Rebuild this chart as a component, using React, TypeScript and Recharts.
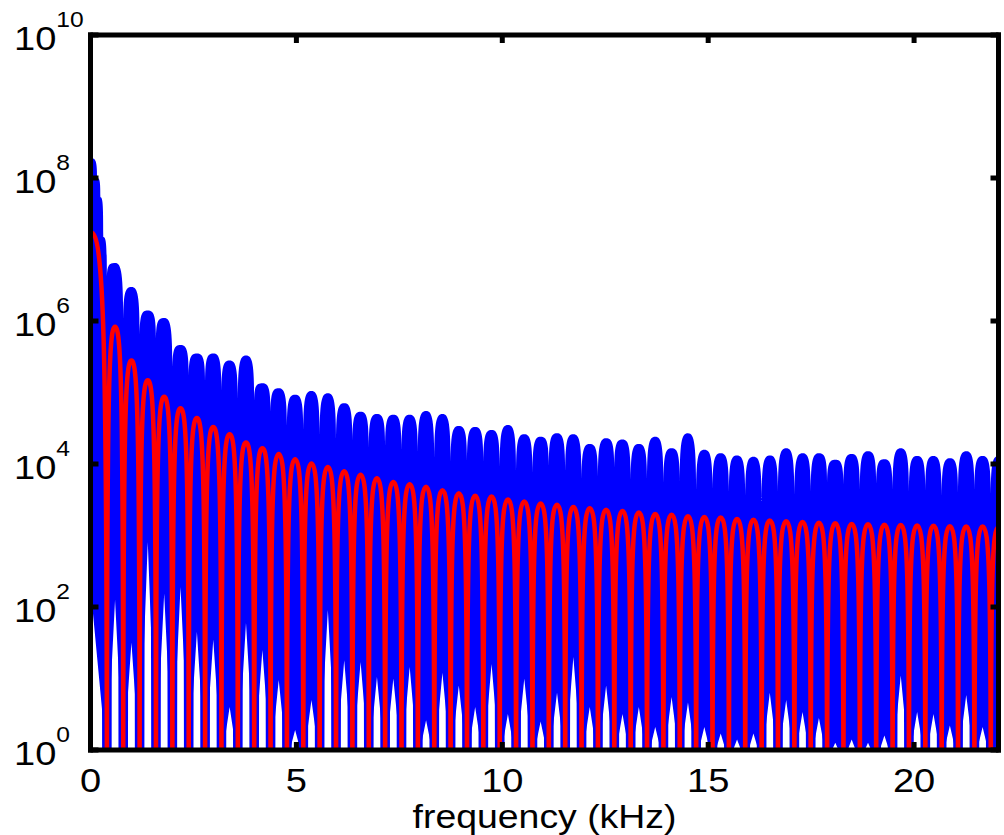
import React from 'react';
import { ComposedChart, Area, Line, XAxis, YAxis } from 'recharts';

// frequencies (kHz) of the nulls between lobes (lobe k ends at nullFreqs[k])
const nullFreqs = [
  0.398, 0.795, 1.193, 1.59, 1.988, 2.385, 2.783, 3.18, 3.578, 3.975,
  4.373, 4.77, 5.168, 5.565, 5.963, 6.36, 6.758, 7.155, 7.553, 7.95,
  8.348, 8.745, 9.143, 9.54, 9.938, 10.335, 10.733, 11.13, 11.528, 11.925,
  12.323, 12.72, 13.118, 13.515, 13.913, 14.31, 14.708, 15.105, 15.503, 15.9,
  16.298, 16.695, 17.093, 17.49, 17.888, 18.285, 18.683, 19.08, 19.478, 19.875,
  20.273, 20.67, 21.068, 21.465, 21.863,
];

// frequencies (kHz) of the lobe maxima
const peakFreqs = [
  0, 0.596, 0.994, 1.391, 1.789, 2.186, 2.584, 2.981, 3.379, 3.776,
  4.174, 4.571, 4.969, 5.366, 5.764, 6.161, 6.559, 6.956, 7.354, 7.751,
  8.149, 8.546, 8.944, 9.341, 9.739, 10.136, 10.534, 10.931, 11.329, 11.726,
  12.124, 12.521, 12.919, 13.316, 13.714, 14.111, 14.509, 14.906, 15.304, 15.701,
  16.099, 16.496, 16.894, 17.291, 17.689, 18.086, 18.484, 18.881, 19.279, 19.676,
  20.074, 20.471, 20.869, 21.266, 21.664, 22.05,
];

// red curve: lobe peak magnitudes
const redPeaks = [
  1.74e7, 8.3e5, 2.8e5, 1.48e5, 8.7e4, 6.0e4, 4.4e4, 3.3e4, 2.6e4, 2.0e4,
  1.66e4, 1.38e4, 1.17e4, 1.02e4, 9100, 7900, 7100, 6300, 5600, 5200,
  4800, 4300, 3900, 3600, 3500, 3200, 3000, 2800, 2700, 2500,
  2400, 2300, 2200, 2100, 2000, 1950, 1860, 1820, 1780, 1700,
  1660, 1620, 1580, 1550, 1510, 1480, 1450, 1440, 1410, 1400,
  1380, 1370, 1350, 1340, 1340, 1320,
];

// blue spectrum: upper envelope at each lobe
const bluePeaks = [
  1.9e8, 6.5e6, 3.0e6, 1.4e6, 1.1e6, 4.6e5, 3.5e5, 3.5e5, 2.8e5, 3.3e5,
  1.35e5, 1.15e5, 9.3e4, 1.05e5, 9.8e4, 7.1e4, 5.4e4, 5.0e4, 4.9e4, 4.9e4,
  5.5e4, 5.0e4, 3.4e4, 3.3e4, 3.0e4, 3.5e4, 2.6e4, 2.4e4, 2.7e4, 2.6e4,
  1.9e4, 2.3e4, 2.2e4, 1.9e4, 2.4e4, 1.66e4, 2.7e4, 1.58e4, 1.41e4, 1.32e4,
  1.26e4, 1.32e4, 1.66e4, 1.41e4, 1.41e4, 1.15e4, 1.38e4, 1.51e4, 1.17e4, 1.66e4,
  1.29e4, 1.29e4, 1.2e4, 1.51e4, 1.29e4, 1.29e4,
];

// blue spectrum: upper envelope in the notches (at each null)
const blueNotches = [
  3.7e6, 8.3e5, 5.4e5, 4.9e5, 1.86e5, 1.48e5, 1.2e5, 8.7e4, 6.3e4, 7.1e4,
  4.6e4, 2.7e4, 2.4e4, 1.95e4, 1.74e4, 1.74e4, 1.41e4, 1.48e4, 1.26e4, 1.15e4,
  9100, 8300, 9100, 8700, 7400, 6300, 6000, 7800, 6300, 4800,
  5400, 7400, 4800, 4800, 4400, 4800, 3200, 3500, 3200, 2800,
  2500, 3200, 2800, 3200, 4800, 4400, 3500, 4400, 3500, 3200,
  3500, 2800, 3200, 3500, 3000,
];

// blue spectrum: main-lobe staircase
const blueMainFreqs = [0.16, 0.24, 0.31];
const blueMainValues = [1.0e8, 5.4e7, 1.5e7];

// blue spectrum: lowest excursion inside each lobe
const blueLows = [
  190, 126, 32, 810, 155, 190, 45, 35, 4, 60,
  25, 9.5, 1.9, 5, 91, 18, 17, 10.5, 10, 14.5,
  2.6, 12, 8, 4, 16, 3.2, 10, 2.5, 6.3, 20,
  4, 8, 3.2, 4, 2.1, 5.5, 4.6, 2.1, 1.7, 1.4,
  1.7, 6.3, 5, 3.4, 2.8, 1.26, 1.4, 1.26, 1.6, 11,
  3.4, 3.2, 2.2, 5.9, 2.1, 0.3,
];

const NULL_LEVEL = 0.1;
const WHITE_BASE = 0.7;

const xTicks = [0, 5, 10, 15, 20];
const yTicks = [1, 1e2, 1e4, 1e6, 1e8, 1e10];

type Pt = { f: number; v: number };

const redData: Pt[] = [];
const blueHiData: Pt[] = [];
const blueLoData: Pt[] = [];
for (let k = 0; k < peakFreqs.length; k++) {
  redData.push({ f: peakFreqs[k], v: redPeaks[k] });
  blueHiData.push({ f: peakFreqs[k], v: bluePeaks[k] });
  blueLoData.push({ f: peakFreqs[k], v: blueLows[k] });
  if (k === 0) {
    blueMainFreqs.forEach((f, i) => blueHiData.push({ f, v: blueMainValues[i] }));
  }
  if (k < nullFreqs.length) {
    redData.push({ f: nullFreqs[k], v: NULL_LEVEL });
    blueHiData.push({ f: nullFreqs[k], v: blueNotches[k] });
    blueLoData.push({ f: nullFreqs[k], v: WHITE_BASE });
  }
}

// dome-shaped interpolation: vertical tangents at minima, horizontal at maxima
const CA = 0.85;
const CB = 0.8;
function domeCurve(context: any) {
  let line: number = NaN;
  let pt = 0;
  let x0 = 0;
  let y0 = 0;
  return {
    areaStart() { line = 0; },
    areaEnd() { line = NaN; },
    lineStart() { pt = 0; },
    lineEnd() {
      if (line || (line !== 0 && pt === 1)) context.closePath();
      line = 1 - line;
    },
    point(x: number, y: number) {
      x = +x; y = +y;
      if (pt === 0) {
        pt = 1;
        if (line) context.lineTo(x, y); else context.moveTo(x, y);
      } else {
        pt = 2;
        const dx = x - x0;
        const dy = y - y0;
        if (dy < 0) context.bezierCurveTo(x0, y0 + dy * CA, x - dx * CB, y, x, y);
        else context.bezierCurveTo(x0 + dx * CB, y0, x, y - dy * CA, x, y);
      }
      x0 = x; y0 = y;
    },
  };
}

const FONT = "'Liberation Sans', Arial, Helvetica, sans-serif";
const SX = 1.12;

const XTick = (props: any) => {
  const { x, payload } = props;
  return (
    <text transform={`translate(${x},792) scale(${SX},1)`} textAnchor="middle" fontFamily={FONT} fontSize={34} fill="#000">
      {payload.value}
    </text>
  );
};

const YTick = (props: any) => {
  const { y, payload } = props;
  const exp = String(Math.round(Math.log10(payload.value)));
  return (
    <text transform={`translate(14,${y + 14.7}) scale(${SX},1)`} fontFamily={FONT} fontSize={34} fill="#000">
      <tspan>10</tspan>
      <tspan dy={-23} fontSize={22}>{exp}</tspan>
    </text>
  );
};

const NoTick = () => <g />;

const frame = { stroke: '#000', strokeWidth: 5, strokeLinecap: 'square' as const };
const tickLn = { stroke: '#000', strokeWidth: 5 };

export default function App() {
  return (
    <div style={{ position: 'absolute', left: 0, top: 0, width: 1004, height: 835, background: '#fff' }}>
      <ComposedChart width={1004} height={835} margin={{ top: 34, right: 4.5, bottom: 0, left: 0.5 }}>
        <XAxis xAxisId="b" dataKey="f" type="number" domain={[0, 22.05]} allowDataOverflow ticks={xTicks}
          orientation="bottom" height={85} tickSize={-8} tick={<XTick />} axisLine={frame} tickLine={tickLn} />
        <XAxis xAxisId="t" dataKey="f" type="number" domain={[0, 22.05]} allowDataOverflow ticks={xTicks}
          orientation="top" height={1} tickSize={-8} tick={<NoTick />} axisLine={frame} tickLine={tickLn} />
        <YAxis yAxisId="l" type="number" scale="log" domain={[1, 1e10]} allowDataOverflow ticks={yTicks}
          orientation="left" width={90} tickSize={-8} tick={<YTick />} axisLine={frame} tickLine={tickLn} />
        <YAxis yAxisId="r" type="number" scale="log" domain={[1, 1e10]} allowDataOverflow ticks={yTicks}
          orientation="right" width={1} tickSize={-8} tick={<NoTick />} axisLine={frame} tickLine={tickLn} />
        <Area data={blueHiData} dataKey="v" xAxisId="b" yAxisId="l" type={domeCurve as any}
          stroke="none" fill="#0000ff" fillOpacity={1} isAnimationActive={false} />
        <Area data={blueLoData} dataKey="v" xAxisId="b" yAxisId="l" type="linear"
          stroke="none" fill="#ffffff" fillOpacity={1} isAnimationActive={false} />
        <Line data={redData} dataKey="v" xAxisId="b" yAxisId="l" type={domeCurve as any}
          stroke="#0000ff" strokeWidth={9.5} dot={false} activeDot={false} isAnimationActive={false} />
        <Line data={redData} dataKey="v" xAxisId="b" yAxisId="l" type={domeCurve as any}
          stroke="#ff0000" strokeWidth={4.5} dot={false} activeDot={false} isAnimationActive={false} />
      </ComposedChart>
      <svg width={1004} height={835} style={{ position: 'absolute', left: 0, top: 0, pointerEvents: 'none' }}>
        <text transform={`translate(544.5,828) scale(1.1,1)`} textAnchor="middle" fontFamily={FONT} fontSize={34} fill="#000">
          frequency (kHz)
        </text>
      </svg>
    </div>
  );
}
